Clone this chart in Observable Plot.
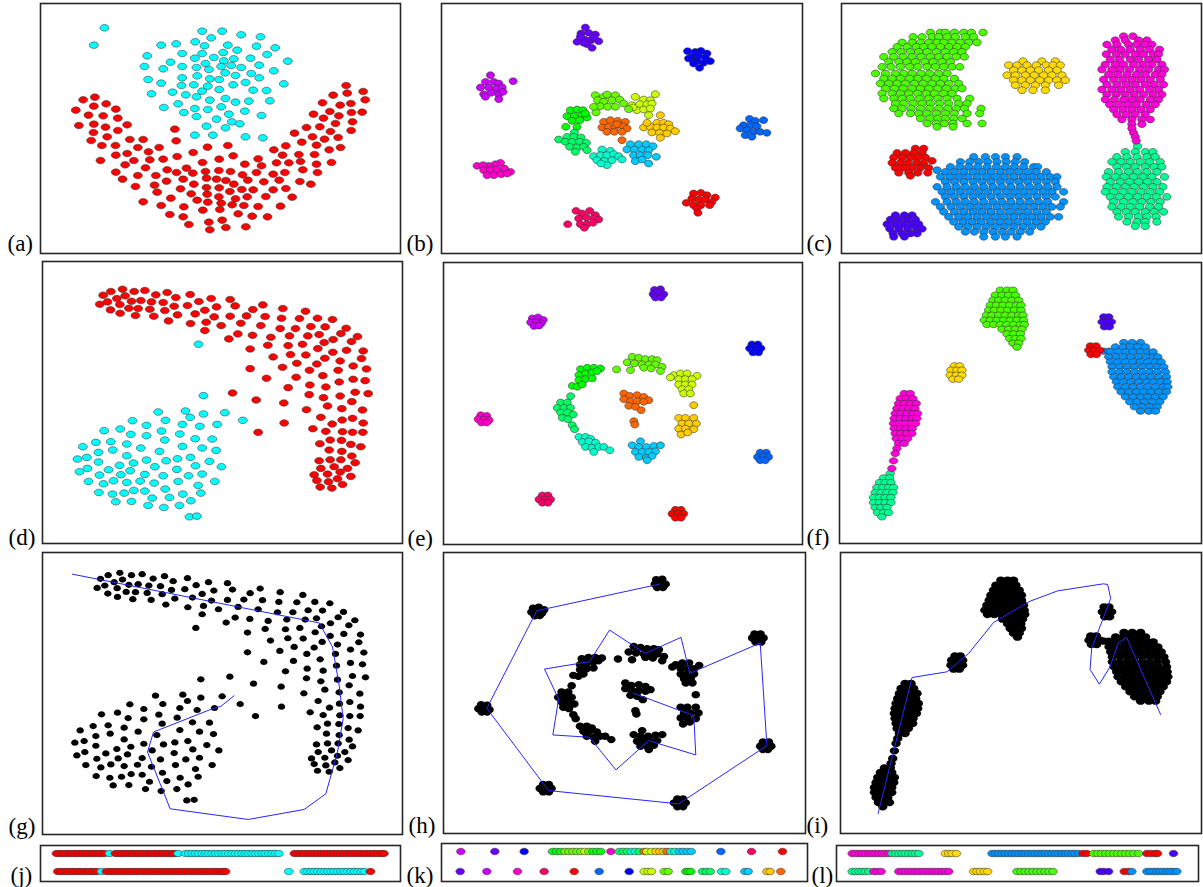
<!DOCTYPE html>
<html>
<head>
<meta charset="utf-8">
<script src="https://cdn.jsdelivr.net/npm/d3@7"></script>
<script src="https://cdn.jsdelivr.net/npm/@observablehq/plot@0.6"></script>
<style>
  body { margin: 0; background: #fff; }
  #fig { position: relative; width: 1203px; height: 887px; overflow: hidden; background: #fff; }
  #fig svg { position: absolute; overflow: visible; }
</style>
</head>
<body>
<div id="fig"></div>
<script>
// ---------- colour sets ----------
const twoPalette = ["#ff0000", "#00ffff"];
const ringPalette = ["#ff0000", "#ff6600", "#ffcc00", "#ccff00", "#66ff00", "#00ff00", "#00ff66", "#00ffcc",
                     "#00ccff", "#0066ff", "#0000ff", "#6600ff", "#cc00ff", "#ff00cc", "#ff0066"];
const blobPalette = ["#ff0000", "#ffdb00", "#49ff00", "#00ff92", "#0092ff", "#4900ff", "#ff00db"];

// ---------- (a) two-moon style set, flat x,y pairs ----------
const aCyan = [312,83, 280,135, 605,93, 665,93, 722,104, 780,110, 632,113, 482,135, 527,131, 584,125, 612,137, 682,135, 768,138, 824,143, 710,150, 440,167, 545,160, 605,160, 668,157, 583,174, 640,172, 700,176, 750,174, 800,163, 862,183, 510,186, 615,190, 670,182, 432,199, 488,206, 545,199, 588,202, 625,208, 662,199, 692,196, 722,202, 776,195, 820,212, 443,238, 482,249, 545,233, 590,227, 628,236, 656,238, 674,218, 705,226, 752,220, 776,233, 850,251, 453,281, 516,276, 543,256, 580,254, 622,258, 605,273, 656,268, 698,254, 735,247, 758,270, 798,271, 556,284, 588,290, 628,300, 675,295, 705,306, 745,303, 808,302, 490,322, 533,311, 583,325, 622,328, 662,320, 685,342, 733,333, 783,346, 550,337, 588,349, 648,357, 694,365, 718,371, 618,378, 675,383, 583,405, 637,405, 735,410, 787,413];
const aRed = [248,299, 283,291, 226,330, 280,318, 317,311, 346,327, 264,345, 308,347, 352,354, 235,376, 280,372, 315,381, 380,374, 279,397, 320,410, 352,391, 272,421, 304,436, 345,436, 388,418, 428,418, 346,465, 380,460, 412,442, 444,455, 476,442, 300,481, 374,494, 400,481, 435,503, 448,479, 488,477, 530,469, 523,387, 527,422, 578,457, 621,441, 682,436, 346,516, 366,537, 412,526, 466,526, 500,509, 528,517, 558,504, 577,519, 606,487, 656,477, 698,467, 733,492, 773,476, 783,497, 405,559, 462,555, 498,543, 548,537, 540,566, 580,552, 615,514, 655,511, 690,514, 726,524, 742,540, 768,517, 818,522, 853,517, 828,488, 865,488, 846,465, 820,449, 856,437, 895,463, 900,484, 907,509, 948,492, 951,517, 993,487, 942,463, 986,449, 1020,442, 882,399, 904,426, 936,410, 948,435, 972,417, 1013,412, 918,382, 958,380, 1005,370, 990,394, 1052,391, 939,342, 969,354, 1015,347, 1056,365, 988,334, 1053,337, 1085,336, 966,308, 1019,315, 1051,310, 998,285, 1040,279, 1094,299, 1088,274, 1037,256, 470,576, 511,594, 428,605, 482,616, 550,620, 508,643, 548,650, 565,673, 572,581, 590,600, 618,562, 618,534, 648,537, 676,541, 700,552, 656,563, 688,574, 724,568, 758,569, 620,582, 655,590, 622,606, 662,609, 695,614, 705,596, 740,590, 730,616, 773,619, 796,589, 818,569, 790,545, 836,540, 856,565, 875,591, 840,618, 898,544, 931,552, 607,630, 658,628, 713,641, 755,648, 801,650, 625,666, 665,660, 628,689, 676,682, 736,680];

// ---------- (d)/(g) embedded two-class set ----------
const dRed = [307,111, 330,100, 365,93, 400,100, 432,97, 297,138, 320,131, 348,121, 373,113, 392,129, 420,127, 357,139, 384,150, 412,151, 447,153, 452,131, 465,110, 499,103, 487,133, 525,118, 568,109, 329,155, 358,165, 404,172, 459,174, 492,157, 520,144, 530,170, 503,188, 560,142, 594,130, 631,121, 688,124, 569,196, 583,167, 612,156, 647,146, 616,192, 612,217, 640,176, 661,202, 688,174, 703,143, 720,195, 737,173, 756,154, 786,140, 793,175, 780,202, 846,151, 914,159, 842,180, 896,181, 950,180, 995,184, 684,242, 711,227, 755,231, 748,272, 801,261, 810,237, 838,211, 866,233, 884,211, 930,205, 973,206, 1036,210, 1020,226, 955,229, 921,233, 862,262, 905,258, 951,271, 970,253, 997,244, 1052,250, 1070,235, 817,296, 869,289, 915,290, 996,282, 1037,276, 1087,278, 748,331, 845,327, 888,315, 948,317, 972,300, 1018,308, 1082,301, 797,360, 886,357, 926,336, 966,352, 1012,336, 1057,323, 1097,332, 862,388, 927,380, 975,386, 1015,371, 1057,363, 1093,367, 925,409, 968,418, 1018,413, 1063,402, 1102,406, 695,404, 766,425, 849,434, 917,454, 980,443, 1023,451, 1053,430, 1085,455, 850,494, 772,522, 960,477, 994,497, 1024,485, 1055,480, 1087,494, 936,511, 975,519, 1025,520, 1055,522, 1086,522, 957,556, 988,545, 1022,546, 1050,558, 1080,565, 985,575, 1023,579, 1053,593, 955,607, 988,604, 1020,604, 1063,613, 960,630, 1000,625, 1040,630, 940,649, 980,647, 1018,641, 1050,654, 948,666, 983,670, 1010,661, 958,686, 993,689, 1025,678];
const dCyan = [593,258, 608,412, 472,461, 554,458, 568,477, 608,467, 672,463, 726,486, 395,487, 437,501, 494,486, 545,498, 597,504, 649,498, 310,517, 358,512, 390,528, 437,532, 482,518, 537,527, 492,545, 583,541, 634,542, 246,565, 285,552, 330,550, 378,557, 420,569, 476,579, 545,564, 604,569, 646,576, 230,602, 258,597, 293,582, 336,575, 378,592, 437,605, 496,607, 530,601, 569,597, 626,609, 236,640, 260,630, 293,611, 323,634, 356,621, 388,637, 398,614, 462,625, 528,633, 584,622, 662,625, 263,669, 296,650, 308,676, 338,667, 360,649, 378,672, 418,668, 432,648, 460,674, 487,652, 532,669, 563,652, 604,647, 642,669, 294,702, 335,707, 370,704, 399,696, 432,698, 454,719, 493,692, 506,717, 546,707, 592,681, 600,704, 345,730, 392,729, 442,741, 489,747, 536,741, 570,727, 566,775, 588,773];
const gPath = [223,97, 963,243, 1003,315, 1023,430, 1035,530, 1018,630, 983,755, 918,802, 750,832, 516,800, 448,630, 466,570, 643,500, 668,493, 708,461];

// ---------- (b) fifteen clusters, index = ringPalette entry ----------
const bClusters = [
  [790,580, 812,578, 830,585, 855,592, 768,608, 785,595, 805,598, 825,598, 845,605, 790,615, 812,615, 838,615, 800,625, 803,638],
  [520,365, 540,360, 562,362, 585,365, 515,382, 535,380, 555,380, 578,378, 590,385, 530,395, 552,395, 575,395, 575,420, 560,372],
  [690,345, 680,368, 700,368, 715,372, 640,382, 660,380, 680,382, 700,382, 720,385, 735,393, 665,397, 688,398, 710,400, 690,413, 650,368],
  [615,290, 640,298, 660,300, 675,282, 605,315, 628,312, 650,312, 665,310, 620,330, 640,328, 660,325, 655,345, 608,322],
  [495,285, 520,290, 530,283, 555,285, 502,300, 520,305, 545,300, 568,298, 580,310, 510,318, 532,320, 555,320, 497,337, 490,320, 595,327],
  [420,330, 440,328, 458,330, 410,348, 432,348, 455,345, 470,352, 425,362, 448,360, 440,380, 406,380, 465,340],
  [432,397, 410,410, 430,410, 452,412, 385,418, 405,425, 425,425, 448,425, 468,428, 418,440, 440,442, 460,440, 435,455, 470,450],
  [515,448, 540,452, 490,468, 510,465, 530,465, 550,462, 565,468, 500,480, 522,482, 545,480, 575,478, 530,495, 512,490],
  [600,432, 625,432, 648,432, 668,438, 590,448, 612,448, 635,448, 655,450, 610,465, 630,465, 652,465, 678,470, 615,483, 655,490, 635,478],
  [958,356, 975,362, 1000,360, 940,375, 960,375, 980,378, 930,385, 950,390, 970,395, 990,395, 945,405, 965,410, 1010,398],
  [772,153, 795,155, 812,152, 830,160, 785,170, 805,168, 825,172, 840,183, 775,175, 800,183, 820,188, 808,203, 790,190],
  [465,82, 452,100, 475,98, 495,103, 440,125, 462,118, 482,120, 505,123, 470,132, 485,143, 450,110, 490,112, 460,128],
  [180,225, 165,245, 190,245, 205,250, 150,262, 175,262, 198,265, 215,262, 160,282, 182,278, 205,283, 218,275, 205,297, 165,290, 248,243],
  [210,488, 195,492, 175,497, 140,497, 158,495, 160,510, 180,510, 200,508, 222,505, 240,515, 170,525, 190,525, 212,522, 230,520],
  [437,632, 455,640, 478,632, 495,645, 445,655, 468,652, 490,655, 505,658, 450,672, 470,672, 488,668, 462,683, 412,672]
];

// ---------- (e)/(h) the same fifteen clusters after embedding ----------
const eClusters = [
  [735,753, 752,753, 725,765, 743,765, 760,765, 735,777, 752,777],
  [580,405, 598,412, 620,410, 640,415, 655,425, 580,422, 600,428, 620,428, 640,430, 595,442, 615,445, 632,455, 610,488, 613,498],
  [790,440, 745,478, 765,478, 790,478, 755,495, 775,495, 798,495, 745,510, 765,510, 790,512, 752,528, 772,522],
  [730,350, 750,345, 770,345, 800,352, 720,357, 745,362, 765,362, 785,362, 745,378, 765,378, 785,378, 755,392, 775,392, 760,405, 780,405],
  [605,295, 625,298, 645,302, 665,302, 680,305, 590,312, 612,315, 635,318, 655,318, 675,318, 695,325, 600,335, 640,328, 662,330, 690,338, 558,333],
  [450,332, 470,328, 490,328, 510,330, 445,350, 465,345, 485,342, 500,338, 445,365, 465,362, 485,360, 425,382, 440,385, 455,378],
  [420,413, 390,432, 410,432, 380,448, 400,448, 420,448, 390,462, 410,462, 428,468, 395,478, 412,482, 425,500, 432,512],
  [445,535, 465,535, 480,540, 455,550, 475,548, 495,552, 465,565, 485,568, 505,565, 520,565, 538,575, 490,580],
  [630,548, 605,560, 625,565, 648,565, 670,562, 690,560, 615,580, 635,580, 655,580, 675,578, 625,595, 648,598, 665,592, 650,605],
  [990,582, 1008,582, 982,595, 1000,593, 1015,595, 990,605, 1005,605],
  [965,258, 983,258, 958,270, 975,270, 992,270, 968,282, 985,282],
  [672,95, 690,93, 668,108, 685,105, 700,108, 675,118, 692,118, 683,100],
  [305,180, 322,177, 338,185, 300,192, 318,192, 332,195, 310,203, 325,202],
  [150,470, 168,472, 142,482, 160,483, 175,485, 152,492, 168,492],
  [335,710, 352,710, 325,722, 343,722, 360,722, 335,732, 352,732]
];
const hPath = [682,108, 316,188, 167,481, 351,728, 739,768, 1002,593, 982,285, 772,376, 746,268, 639,316, 533,246, 473,341, 339,363, 381,453, 364,561, 473,568, 552,666, 649,578, 790,621, 784,503, 605,436];

// ---------- (c) seven clusters, rows of [y, x, x, ...] ----------
const cRed = [[445,255,280],[458,200,225,250,275],[472,190,215,240,262,285],[482,305],[488,185,210,232,258,280],[503,195,220,245,270,295],[518,205,235,262,292],[527,240]];
const cGold = [[183,578,635,675],[195,535,560,590,618,648,668,690],[210,550,575,600,625,655,680],[225,530,555,585,612,640,665,695],[240,550,575,600,628,655,680,705],[255,555,585,615,645,685],[270,575,608,645]];
const cGreen = [[97,300,330,345,372,400,423,458],[110,248,275,305,325,350,375,405,430],[127,215,245,270,295,320,340,365,390,415,440],[140,200,230,258,280,305,330,355,380,405],[155,185,212,240,265,290,318,345,370,395],[170,160,190,218,245,272,300,325,350,378,402],[185,175,205,230,255,283,308,335,360],[200,155,182,210,238,262,290,315,340,365,388],[220,135,165,195,220,245,272,298,325,350],[235,160,185,210,238,262,288,315,340,372],[250,150,175,200,225,252,278,305,330,355,385],[265,165,192,218,245,270,295,322,348,375,395],[280,155,185,210,235,262,288,312,340,365],[295,160,190,215,240,268,295,322,350,380,418],[310,195,220,248,275,300,328,355,385,410],[325,190,215,242,270,298,325,352,378,402,452],[340,205,240,265,290,318,345,372,410,448],[355,270,298,322,345,370,395],[370,290,318,342,368,410,455],[380,320,368]];
const cMint = [[438,922],[455,885,915,945,968],[470,860,890,920,950,975],[485,845,872,900,930,958,990],[500,860,888,915,945,972,995],[515,835,865,895,922,950,980],[530,828,855,882,910,938,965,1003],[545,840,870,898,925,952,980],[560,830,858,885,912,940,968,998],[575,825,850,878,905,932,960,988],[590,840,868,895,922,950,978,1010],[605,850,880,908,935,962,990],[620,845,872,900,928,958,985],[635,860,888,915,945,972,1000],[650,865,895,925,950,978],[665,890,920,945,980],[678,915,945]];
const cBlue = [[470,430,465,495,525,560],[485,390,418,445,472,500,528,555,583],[500,360,388,415,442,470,498,525,552,580,610,622],[510,320],[515,345,372,400,428,455,482,510,538,565,592,618,648],[530,330,358,385,412,440,468,495,522,550,578,605,632,660,680],[545,345,372,400,428,455,482,510,538,565,592,620,648,675],[560,320,350,378,405,432,460,488,515,542,570,598,625,652,680],[575,335,362,390,418,445,472,500,528,555,582,610,638,665,700],[590,345,372,400,428,455,482,510,538,565,592,620,648,675],[605,315,350,378,405,432,460,488,515,542,570,598,625,652,700],[620,330,362,390,418,445,472,500,528,555,582,610,638,665,690],[635,340,372,400,428,455,482,510,538,565,592,620,648],[650,355,385,412,440,468,495,522,550,578,605,632,660,685],[665,370,398,425,452,480,508,535,562,590,618,645],[680,385,412,440,468,495,522,550,578,605,632],[695,405,432,460,488,515,542,570,598],[710,460,495,525,560]];
const cViolet = [[645,195,222,245],[658,180,205,230,255],[672,170,195,220,245,265],[686,178,205,232,258,275],[700,188,215,240,260],[710,190,222]];
const cMagenta = [[108,880,908],[120,855,885,925,950],[133,830,860,895,920,945,965],[148,845,872,900,930,958,988],[162,828,858,885,915,940,970,985],[178,840,868,900,925,955,980],[193,825,855,880,910,938,965,995],[208,815,845,870,898,928,955,985,1003],[223,835,862,890,918,945,975,995],[238,820,850,878,905,932,960,990],[253,830,860,888,915,945,972,1000],[268,815,845,872,900,928,958,985],[283,830,858,885,912,940,968,995],[298,825,852,880,905,930,960,985],[313,838,865,892,918,948,975],[328,850,878,905,932,960],[343,860,888,915,945],[358,875,905,935,960],[372,905,935],[385,905],[398,910],[410,915],[422,918]];

// ---------- (f)/(i) the same seven clusters after embedding ----------
const fRed = [[262,780,797],[275,775,792,808],[288,782,798]];
const fGold = [[322,372,388],[335,362,380,395],[350,360,378,395],[362,368,385]];
const fGreen = [[95,510,530,548],[110,495,515,535,555],[125,488,505,525,545,565],[140,480,498,518,538,558,572],[155,475,492,512,532,552,572],[170,468,485,505,525,545,565,578],[185,462,480,500,520,540,560,580],[198,470,490,510,530,550,570,582],[212,515,535,555,575],[226,530,550,570],[240,538,555,572],[254,548,565],[266,560]];
const fMint = [[645,180],[658,160,178],[672,148,165,182],[687,140,158,175,190],[702,135,152,170,188],[717,130,148,165,182],[732,130,148,165,182],[747,135,152,170],[762,142,160,175],[775,155]];
const fBlue = [[252,880,905,930],[265,855,878,900,922,945],[278,820,835],[280,840,862,885,908,930,952,968],[295,835,858,880,902,925,948,970,982],[310,840,862,885,908,930,952,975,992],[325,845,868,890,912,935,958,980,1000],[340,845,868,890,912,935,958,980,1005],[355,850,872,895,918,940,962,985,1008],[370,858,880,902,925,948,970,992,1010],[385,862,885,908,930,952,975,998,1012],[400,872,895,918,940,962,985,1008],[415,885,908,930,952,975,998],[430,898,920,942,965,988],[445,912,935,958,980],[458,930,955,975]];
const fViolet = [[175,820,835],[190,815,830,843],[205,822,837]];
const fMagenta = [[405,222,240],[420,210,228,248],[435,205,222,240,258],[450,200,218,236,254],[465,195,212,230,248,262],[480,192,210,228,246,260],[495,190,208,226,244,256],[510,192,210,228,246],[525,195,212,230,245],[540,198,215,232],[555,205,222],[570,200],[585,195],[607,190],[630,185]];
const iPath = [141,795, 243,387, 348,370, 413,315, 488,222, 598,158, 681,127, 818,106, 831,108, 840,150, 783,300, 778,363, 806,407, 838,355, 863,283, 888,267, 990,498];

// ---------- one-dimensional orderings: runs of [class, x, x, ...] ----------
const jTop = [[0,168,177,186,195,204,213,222,231,240,249,258,267,276,285,294,303,312],[1,327],[0,345,354,363,372,381,390,399,408,417,426,435,444,453,462,471,480,489,498,507,516,525],[1,533,555,565,575,585,595,605,615,625,635,645,655,665,675,685,695,705,715,725,735,745,755,765,775,785,795,805,815,825,835],[0,882,892,902,912,922,932,942,952,962,972,982,992,1002,1012,1022,1032,1042,1052,1062,1072,1082,1092,1102,1112,1122,1132,1142,1150]];
const jBottom = [[0,172,181,190,199,208,217,226,235,244,253,262,271,280,289],[1,303],[0,318,327,336,345,354,363,372,381,390,399,408,417,426,435,444,453,462,471,480,489,498,507,516,525,534,543,552,561,570,579,588,597,606,615,624,633,642,651,660,669,675],[1,865,912,922,932,942,952,962,972,982,992,1002,1012,1022,1032,1042,1052,1062,1072,1082,1092],[0,1110]];
const kTop = [[12,150],[11,252],[10,340],[5,425,437,449],[4,462,474,486,498,510],[3,522],[4,534],[5,546,558,570],[13,600],[6,625,637,649],[7,661,673],[6,685],[1,700],[3,708,722],[2,735,747,758],[1,768],[7,780,792],[8,805,817,829,841],[9,930],[14,1022],[0,1115]];
const kBottom = [[11,148],[12,228],[13,320],[14,400],[0,490],[9,565],[10,655],[3,700,712,722],[4,760,772],[5,825,832,840],[6,875,886,898],[7,932,945],[8,1002,1012],[2,1068,1078],[1,1110]];
const lTop = [[6,125,135,145,155,165,175,185,195,205,215,225,235],[3,245,255,265,275,285,295,305,315,325],[1,405,415,425,438],[4,545,555,565,575,585,595,605,615,625,635,645,655,665,675,685,695,705,715,725,735,745,755,765,775,785,795,805],[0,818,830],[2,850,862,874,886,898,910,922,934,946,958,970,985],[0,1010,1022,1035,1042],[5,1090]];
const lBottom = [[3,125,135,145,155,165,175],[6,190,200,212],[6,265,275,285,295,305,315,325,335,345,355,365,375,385,395,405,415],[1,490,500,510,522,532],[2,620,632,644,656,668,680,692,704,716,728],[5,870,880,895],[0,942,955],[4,965],[4,1010,1020,1030,1040,1050,1060,1070,1080,1090,1100]];

// ---------- helpers ----------
const fromPairs = (flat, k) => { const out = []; for (let i = 0; i < flat.length; i += 2) out.push({x: flat[i], y: flat[i + 1], k}); return out; };
const fromRows = (rs, k) => rs.flatMap(([y, ...xs]) => xs.map(x => ({x, y, k})));
const fromRuns = (runs, row) => runs.flatMap(([k, ...xs]) => xs.map(x => ({x, row, k})));
const strip = (top, bottom) => [...fromRuns(top, 1), ...fromRuns(bottom, 2)].sort((p, q) => p.x - q.x);

// elliptical marker, slightly wider than tall
function ellipse(rx, ry) {
  const c = 0.5523;
  return {
    draw(ctx) {
      ctx.moveTo(rx, 0);
      ctx.bezierCurveTo(rx, ry * c, rx * c, ry, 0, ry);
      ctx.bezierCurveTo(-rx * c, ry, -rx, ry * c, -rx, 0);
      ctx.bezierCurveTo(-rx, -ry * c, -rx * c, -ry, 0, -ry);
      ctx.bezierCurveTo(rx * c, -ry, rx, -ry * c, rx, 0);
      ctx.closePath();
    }
  };
}

const aPts = [...fromPairs(aRed, 0), ...fromPairs(aCyan, 1)];
const dPts = [...fromPairs(dRed, 0), ...fromPairs(dCyan, 1)];
const bPts = bClusters.flatMap((c, k) => fromPairs(c, k));
const ePts = eClusters.flatMap((c, k) => fromPairs(c, k));
const cPts = [cRed, cGold, cGreen, cMint, cBlue, cViolet, cMagenta].flatMap((c, k) => fromRows(c, k));
const fPts = [[fBlue, 4], [fRed, 0], [fGold, 1], [fGreen, 2], [fMint, 3], [fViolet, 5], [fMagenta, 6]].flatMap(([c, k]) => fromRows(c, k));

const panels = [
  {label: "(a)", labelX: 7, labelDy: -3, left: 40, top: 3, right: 400, bottom: 253, xd: [120, 1200], yd: [10, 760], points: aPts, palette: twoPalette, rx: 4.5, ry: 3.3},
  {label: "(b)", labelX: 406, labelDy: -3, left: 441, top: 3, right: 802, bottom: 253, xd: [33, 1117], yd: [10, 760], points: bPts, palette: ringPalette, rx: 4.1, ry: 3.4},
  {label: "(c)", labelX: 806, labelDy: -3, left: 841, top: 3, right: 1201, bottom: 253, xd: [33, 1114], yd: [10, 760], points: cPts, palette: blobPalette, rx: 4.2, ry: 3.4},
  {label: "(d)", labelX: 8, labelDy: 1, left: 42, top: 261, right: 402, bottom: 543, xd: [125, 1205], yd: [10, 855], points: dPts, palette: twoPalette, rx: 4.5, ry: 3.3},
  {label: "(e)", labelX: 407, labelDy: 1, left: 443, top: 262, right: 802, bottom: 544, xd: [38, 1117], yd: [13, 857], points: ePts, palette: ringPalette, rx: 4, ry: 3.4},
  {label: "(f)", labelX: 806, labelDy: 1, left: 839, top: 262, right: 1201, bottom: 543, xd: [28, 1113], yd: [12, 855], points: fPts, palette: blobPalette, rx: 4.3, ry: 3.2},
  {label: "(g)", labelX: 8, labelDy: -1, left: 42, top: 552, right: 402, bottom: 834, xd: [133, 1213], yd: [32, 877], points: dPts, black: true, rx: 3.7, ry: 3.1, path: fromPairs(gPath, 0)},
  {label: "(h)", labelX: 408, labelDy: -1, left: 443, top: 552, right: 805, bottom: 833, xd: [38, 1117], yd: [13, 857], points: ePts, black: true, rx: 4.3, ry: 3.7, path: fromPairs(hPath, 0)},
  {label: "(i)", labelX: 806, labelDy: -1, left: 840, top: 552, right: 1201, bottom: 833, xd: [28, 1113], yd: [12, 855], points: fPts, black: true, rx: 4.7, ry: 3.7, path: fromPairs(iPath, 0)},
  {label: "(j)", labelX: 10, labelDy: 1, left: 40, top: 845, right: 400, bottom: 881, xd: [120, 1200], strip: true, points: strip(jTop, jBottom), palette: twoPalette, rx: 4.5, ry: 3.2},
  {label: "(k)", labelX: 406, labelDy: 1, left: 441, top: 843, right: 807, bottom: 881, xd: [92, 1190], strip: true, points: strip(kTop, kBottom), palette: ringPalette, rx: 4.3, ry: 3.3},
  {label: "(l)", labelX: 811, labelDy: 1, left: 836, top: 845, right: 1198, bottom: 881, xd: [78, 1165], strip: true, points: strip(lTop, lBottom), palette: blobPalette, rx: 4.3, ry: 3.3}
];

const fig = document.getElementById("fig");

function drawPanel(p) {
  const marks = [
    Plot.dot(p.points, {
      x: "x",
      y: p.strip ? "row" : "y",
      symbol: ellipse(p.rx, p.ry),
      fill: p.black ? "#000" : d => p.palette[d.k],
      stroke: p.black ? "none" : "#303030",
      strokeWidth: 0.55
    })
  ];
  if (p.path) marks.push(Plot.line(p.path, {x: "x", y: "y", stroke: "#2626ff", strokeWidth: 1}));
  marks.push(Plot.frame({stroke: "#262626", strokeWidth: 1.6}));
  marks.push(Plot.text([p.label], {
    text: d => d, frameAnchor: "bottom-left", textAnchor: "start", lineAnchor: "bottom",
    dx: p.labelX - p.left, dy: p.labelDy,
    fontFamily: "'Liberation Serif', 'Times New Roman', serif", fontSize: 23, fill: "#000"
  }));
  const svg = Plot.plot({
    width: p.right - p.labelX + 2,
    height: p.bottom - p.top + 2,
    marginLeft: p.left - p.labelX, marginRight: 2, marginTop: 1, marginBottom: 1,
    x: {domain: p.xd, axis: null},
    y: p.strip
      ? {type: "point", domain: [1, 2], padding: 0.4, insetBottom: 2, axis: null}
      : {domain: p.yd, reverse: true, axis: null},
    color: {type: "identity"},
    marks
  });
  svg.style.left = p.labelX + "px";
  svg.style.top = (p.top - 1) + "px";
  svg.style.overflow = "visible";
  fig.append(svg);
}

panels.forEach(drawPanel);
</script>
</body>
</html>
